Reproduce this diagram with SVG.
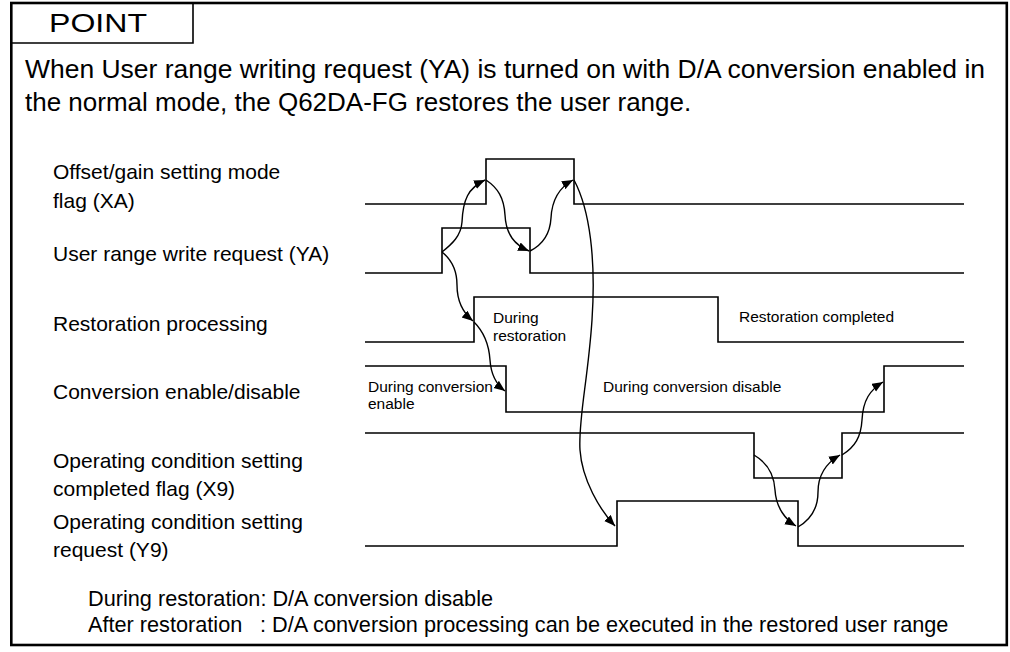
<svg xmlns="http://www.w3.org/2000/svg" width="1010" height="652" viewBox="0 0 1010 652">
<defs>
<marker id="ah" markerUnits="userSpaceOnUse" markerWidth="12" markerHeight="10" refX="11" refY="4.5" orient="auto">
<path d="M0,0 L11,4.5 L0,9 Z" fill="#000"/>
</marker>
<style>
.t{font-family:"Liberation Sans",Arial,sans-serif;fill:#000}
.lbl{font-size:21px}
.sm{font-size:15.5px}
.hd{font-size:26px}
.wave{fill:none;stroke:#000;stroke-width:1.6}
.arr{fill:none;stroke:#000;stroke-width:1.4;marker-end:url(#ah)}
</style>
</defs>
<rect x="0" y="0" width="1010" height="652" fill="#fff"/>
<g id="frame">
<rect x="11.3" y="3" width="995.5" height="642" fill="none" stroke="#000" stroke-width="2.6"/>
<path d="M11.3,43 H193 V3" fill="none" stroke="#000" stroke-width="1.6"/>
<text class="t" x="49" y="32" font-size="26" textLength="98" lengthAdjust="spacingAndGlyphs">POINT</text>
</g>
<g id="header">
<text class="t hd" x="25" y="78" textLength="960" lengthAdjust="spacingAndGlyphs">When User range writing request (YA) is turned on with D/A conversion enabled in</text>
<text class="t hd" x="25" y="111">the normal mode, the Q62DA-FG restores the user range.</text>
</g>
<g id="labels">
<text class="t lbl" x="53" y="179">Offset/gain setting mode</text>
<text class="t lbl" x="53" y="208">flag (XA)</text>
<text class="t lbl" x="53" y="261">User range write request (YA)</text>
<text class="t lbl" x="53" y="331">Restoration processing</text>
<text class="t lbl" x="53" y="399">Conversion enable/disable</text>
<text class="t lbl" x="53" y="468">Operating condition setting</text>
<text class="t lbl" x="53" y="496">completed flag (X9)</text>
<text class="t lbl" x="53" y="529">Operating condition setting</text>
<text class="t lbl" x="53" y="557">request (Y9)</text>
</g>
<g id="sig-XA"><path class="wave" d="M365,204 H486 V159 H574 V204 H964"/></g>
<g id="sig-YA"><path class="wave" d="M365,273 H442 V228 H530 V273 H964"/></g>
<g id="sig-restore">
<path class="wave" d="M365,342 H474 V297 H718 V342 H964"/>
<text class="t sm" x="493" y="323">During</text>
<text class="t sm" x="493" y="341">restoration</text>
<text class="t sm" x="739" y="322">Restoration completed</text>
</g>
<g id="sig-conv">
<path class="wave" d="M365,366 H506 V412 H884 V366 H964"/>
<text class="t sm" x="368" y="392">During conversion</text>
<text class="t sm" x="368" y="409">enable</text>
<text class="t sm" x="603" y="392">During conversion disable</text>
</g>
<g id="sig-X9"><path class="wave" d="M365,433 H754 V478 H842 V433 H964"/></g>
<g id="sig-Y9"><path class="wave" d="M365,546 H617 V501 H798 V546 H964"/></g>
<g id="connectors">
<path class="arr" d="M442,252 C452,244 461,236 462,222 C463,200 468,188 485,180"/>
<path class="arr" d="M486,180 C498,188 504,198 505,215 C506,235 515,245 529,251"/>
<path class="arr" d="M530,251 C542,245 550,235 551,218 C552,198 560,187 573,180"/>
<path class="arr" d="M574,180 C590,210 596,260 592,320 C588,380 578,420 580,450 C582,480 600,510 615,526"/>
<path class="arr" d="M442,252 C452,260 457,270 457,285 C457,300 462,312 473,321"/>
<path class="arr" d="M474,322 C484,332 489,345 490,360 C491,375 497,385 505,391"/>
<path class="arr" d="M754,455 C766,462 774,472 775,490 C776,508 786,520 796,526"/>
<path class="arr" d="M798,527 C810,520 818,510 818,492 C818,474 828,462 840,455"/>
<path class="arr" d="M842,455 C855,447 861,437 862,420 C863,400 870,390 883,382"/>
</g>
<g id="notes">
<text class="t" font-size="21.7" x="88" y="606">During restoration: D/A conversion disable</text>
<text class="t" font-size="21.7" x="88" y="632">After restoration</text>
<text class="t" font-size="21.7" x="260" y="632">: D/A conversion processing can be executed in the restored user range</text>
</g>
</svg>
